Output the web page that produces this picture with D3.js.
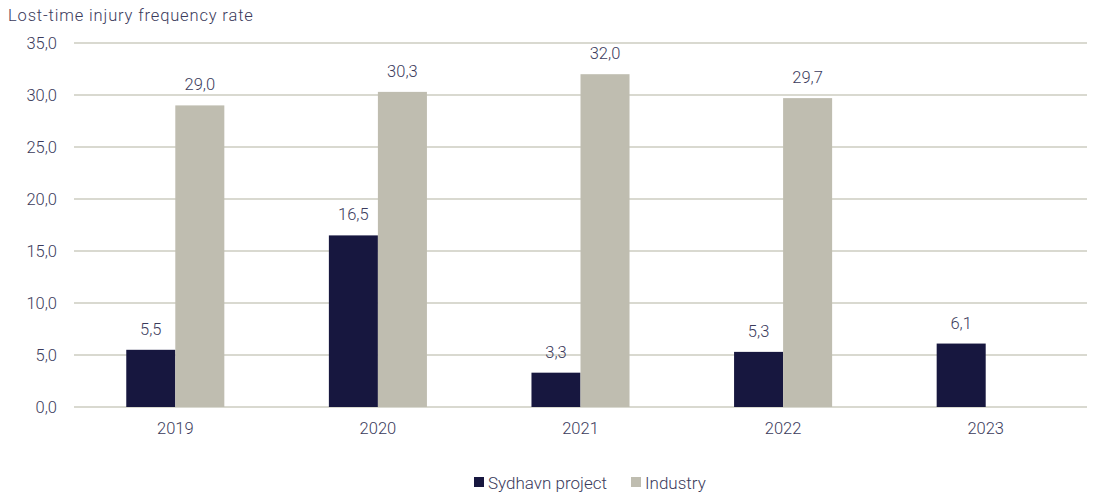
<!DOCTYPE html>
<html><head><meta charset="utf-8">
<script src="https://cdn.jsdelivr.net/npm/d3@7"></script>
<style>
body{margin:0;background:#fff;}
text{font-family:Roboto, "Open Sans", sans-serif;font-weight:300;fill:#3b3b5c;}
</style></head>
<body><svg id="c" width="1095" height="494"></svg>
<script>
const categories = ["2019","2020","2021","2022","2023"];
const seriesNames = ["Sydhavn project","Industry"];
const sydhavn = [5.5,16.5,3.3,5.3,6.1];
const industry = [29.0,30.3,32.0,29.7,null];
const yTicks = [0,5,10,15,20,25,30,35];
const colors = ["#17173f","#bfbdb0"];

(function(){
const svg = d3.select("#c");
const mL=74, mR=1087, mT=43, mB=407;
const x = d3.scaleBand().domain(categories).range([mL,mR]).paddingInner(0.516).paddingOuter(0.258);
const xs = d3.scaleBand().domain(seriesNames).range([0,x.bandwidth()]);
const y = d3.scaleLinear().domain([0,35]).range([mB,mT]);
const fmt = v => d3.format(".1f")(v).replace(".",",");

svg.append("text").attr("x",8).attr("y",21).style("font-size","16.5px").style("letter-spacing","0.85px").text("Lost-time injury frequency rate");

const g = svg.append("g");
g.selectAll("line.grid").data(yTicks).join("line")
  .attr("x1",mL).attr("x2",mR).attr("y1",d=>y(d)).attr("y2",d=>y(d))
  .attr("stroke","#ccccc0").attr("stroke-width",1.5);

const yAxis = svg.append("g").attr("transform",`translate(${mL},0)`)
  .call(d3.axisLeft(y).tickValues(yTicks).tickFormat(fmt).tickSize(0).tickPadding(17));
yAxis.select(".domain").remove();
yAxis.selectAll("text").style("font-size","16.5px").attr("font-family",null).attr("fill",null);

const xAxis = svg.append("g").attr("transform",`translate(0,${mB})`)
  .call(d3.axisBottom(x).tickSize(0).tickPadding(15));
xAxis.select(".domain").remove();
xAxis.selectAll("text").style("font-size","16.5px").attr("font-family",null).attr("fill",null);

const data = categories.map((c,i)=>({c, vals:[sydhavn[i],industry[i]]}));
const grp = svg.selectAll("g.cat").data(data).join("g").attr("class","cat").attr("transform",d=>`translate(${x(d.c)},0)`);
grp.selectAll("rect").data(d=>d.vals.map((v,j)=>({v,j})).filter(e=>e.v!=null)).join("rect")
  .attr("x",e=>xs(seriesNames[e.j])).attr("width",xs.bandwidth())
  .attr("y",e=>y(e.v)).attr("height",e=>y(0)-y(e.v)).attr("fill",e=>colors[e.j]);
grp.selectAll("text.val").data(d=>d.vals.map((v,j)=>({v,j})).filter(e=>e.v!=null)).join("text")
  .attr("class","val").attr("text-anchor","middle")
  .attr("x",e=>xs(seriesNames[e.j])+xs.bandwidth()/2).attr("y",e=>y(e.v)-15)
  .style("font-size","16.5px").text(e=>fmt(e.v));

const leg = svg.append("g");
const legX=[474,631];
seriesNames.forEach((s,i)=>{
  leg.append("rect").attr("x",legX[i]).attr("y",477).attr("width",10).attr("height",10).attr("fill",colors[i]);
  leg.append("text").attr("x",legX[i]+14).attr("y",489).style("font-size","17px").text(s);
});
})();
</script></body></html>
